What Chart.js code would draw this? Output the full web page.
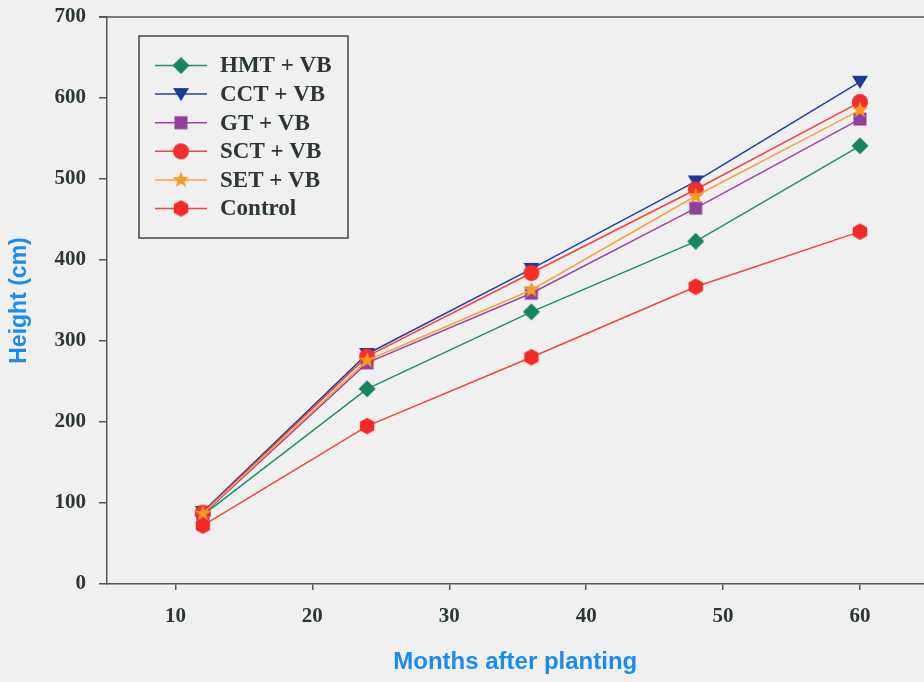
<!DOCTYPE html>
<html><head><meta charset="utf-8">
<script src="https://cdn.jsdelivr.net/npm/chart.js@4/dist/chart.umd.min.js"></script>
<style>html,body{margin:0;padding:0;background:#f0f0f0;overflow:hidden;width:924px;height:682px;}canvas{display:block;}</style>
</head><body>
<canvas id="c" width="933" height="682"></canvas>
<script>
const months = [12, 24, 36, 48, 60];
const xTickValues = [10, 20, 30, 40, 50, 60];
const seriesNames = ["HMT + VB", "CCT + VB", "GT + VB", "SCT + VB", "SET + VB", "Control"];
const hmtVB = [85, 241, 336, 423, 541];
const cctVB = [89, 284, 389, 497, 620];
const gtVB = [86, 273, 359, 464, 574];
const sctVB = [88, 281, 384, 487, 595];
const setVB = [87, 276, 363, 479, 585];
const control = [72, 195, 280, 367, 435];
const seriesValues = [hmtVB, cctVB, gtVB, sctVB, setVB, control];

const lineColors = ['#1f8f6e', '#22409f', '#9c45a3', '#f2443f', '#f5a445', '#f4453f'];
const fillColors = ['#148462', '#183a9c', '#90409b', '#f52d2d', '#f59a22', '#f52828'];
const shapes = ['diamond', 'triDown', 'square', 'circle', 'star', 'hexagon'];

function makeMarker(shape, color) {
  const c = document.createElement('canvas');
  c.width = 20; c.height = 20;
  const g = c.getContext('2d');
  g.fillStyle = color;
  g.beginPath();
  const cx = 10, cy = 10;
  if (shape === 'diamond') {
    g.moveTo(cx, cy - 8.5); g.lineTo(cx + 8.5, cy); g.lineTo(cx, cy + 8.5); g.lineTo(cx - 8.5, cy);
  } else if (shape === 'triDown') {
    g.moveTo(cx - 8, cy - 6); g.lineTo(cx + 8, cy - 6); g.lineTo(cx, cy + 7);
  } else if (shape === 'square') {
    g.rect(cx - 6.5, cy - 6.5, 13, 13);
  } else if (shape === 'circle') {
    g.arc(cx, cy, 8, 0, Math.PI * 2);
  } else if (shape === 'star') {
    for (let i = 0; i < 10; i++) {
      const r = i % 2 === 0 ? 8.5 : 3.6;
      const a = -Math.PI / 2 + i * Math.PI / 5;
      const px = cx + r * Math.cos(a), py = cy + r * Math.sin(a);
      if (i === 0) g.moveTo(px, py); else g.lineTo(px, py);
    }
  } else if (shape === 'hexagon') {
    for (let i = 0; i < 6; i++) {
      const a = -Math.PI / 2 + i * Math.PI / 3;
      const px = cx + 8.3 * Math.cos(a), py = cy + 8.3 * Math.sin(a);
      if (i === 0) g.moveTo(px, py); else g.lineTo(px, py);
    }
  }
  g.closePath();
  g.fill();
  return c;
}
const markers = shapes.map((s, i) => makeMarker(s, fillColors[i]));

const datasets = seriesNames.map((name, i) => ({
  label: name,
  data: months.map((m, j) => ({ x: m, y: seriesValues[i][j] })),
  borderColor: lineColors[i],
  backgroundColor: fillColors[i],
  borderWidth: 1.5,
  pointStyle: markers[i],
  pointRadius: 8,
  tension: 0,
  order: seriesNames.length - i
}));

const tickFont = { family: 'Liberation Serif', weight: 'bold', size: 21 };
const tickColor = '#2c3636';
const axisColor = '#555555';
const titleColor = '#1a8cf0';

const frameAndLegend = {
  id: 'frameAndLegend',
  afterDraw(chart) {
    const ctx = chart.ctx;
    const a = chart.chartArea;
    ctx.save();
    ctx.strokeStyle = axisColor;
    ctx.lineWidth = 1.5;
    ctx.beginPath();
    ctx.moveTo(a.left - 8, a.top);
    ctx.lineTo(chart.width, a.top);
    ctx.stroke();
    ctx.strokeStyle = '#444444';
    ctx.lineWidth = 1.5;
    ctx.strokeRect(139, 36, 209, 202);
    ctx.font = 'bold 23px "Liberation Serif"';
    ctx.textBaseline = 'middle';
    ctx.textAlign = 'left';
    seriesNames.forEach((name, i) => {
      const y = 65.5 + i * 28.6;
      ctx.strokeStyle = lineColors[i];
      ctx.lineWidth = 1.5;
      ctx.beginPath();
      ctx.moveTo(155, y);
      ctx.lineTo(207, y);
      ctx.stroke();
      ctx.drawImage(markers[i], 181 - 10, y - 10);
      ctx.fillStyle = tickColor;
      ctx.fillText(name, 220, y + 1);
    });
    ctx.restore();
  }
};

const bg = {
  id: 'bg',
  beforeDraw(chart) {
    const ctx = chart.ctx;
    ctx.save();
    ctx.fillStyle = '#f0f0f0';
    ctx.fillRect(0, 0, chart.width, chart.height);
    ctx.restore();
  }
};

new Chart(document.getElementById('c'), {
  type: 'line',
  data: { datasets },
  options: {
    responsive: false,
    animation: false,
    layout: { padding: { top: 17, right: 0, left: 0, bottom: 0 } },
    plugins: { legend: { display: false }, tooltip: { enabled: false } },
    scales: {
      x: {
        type: 'linear',
        min: 5,
        max: 64.64,
        afterBuildTicks: (s) => { s.ticks = xTickValues.map(v => ({ value: v })); },
        afterFit: (s) => { s.height = 98; s.paddingLeft = 0; s.paddingRight = 0; },
        ticks: { font: tickFont, color: tickColor, padding: 14, maxRotation: 0, autoSkip: false, callback: (v) => String(v) },
        grid: { drawOnChartArea: false, drawTicks: true, tickLength: 6, color: axisColor, lineWidth: 1.5 },
        border: { display: true, color: axisColor, width: 1.5 },
        title: { display: true, text: 'Months after planting', color: titleColor, font: { family: 'Liberation Sans', weight: 'bold', size: 24 }, padding: { top: 0, bottom: 5 } }
      },
      y: {
        min: 0,
        max: 700,
        afterFit: (s) => { s.width = 107; s.paddingTop = 0; s.paddingBottom = 0; },
        ticks: { stepSize: 100, font: tickFont, color: tickColor, padding: 13 },
        grid: { drawOnChartArea: false, drawTicks: true, tickLength: 8, color: axisColor, lineWidth: 1.5 },
        border: { display: true, color: axisColor, width: 1.5 },
        title: { display: true, text: 'Height (cm)', color: titleColor, font: { family: 'Liberation Sans', weight: 'bold', size: 23 }, padding: { top: 6, bottom: 0 } }
      }
    }
  },
  plugins: [bg, frameAndLegend]
});
</script>
</body></html>
